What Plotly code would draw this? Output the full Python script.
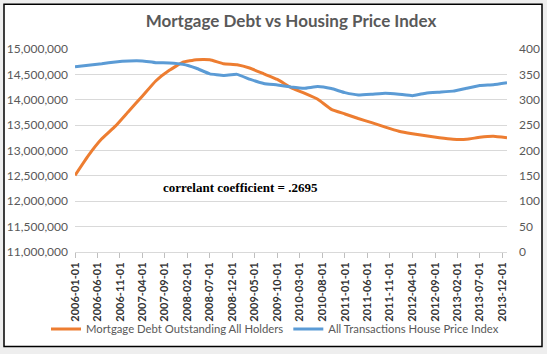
import plotly.graph_objects as go
import pandas as pd

dates = pd.date_range("2006-01-01", "2014-01-01", freq="QS").strftime("%Y-%m-%d").tolist()

mortgage_debt = [
    12510000, 12900000, 13230000, 13480000, 13780000, 14070000, 14370000, 14580000,
    14740000, 14790000, 14790000, 14710000, 14690000, 14620000, 14510000, 14400000,
    14240000, 14130000, 14010000, 13810000, 13720000, 13630000, 13550000, 13460000,
    13380000, 13330000, 13290000, 13250000, 13220000, 13220000, 13260000, 13280000,
    13250000,
]

house_price_index = [
    364.8, 368, 371, 374.6, 376.5, 376.5, 373, 372.6,
    370, 362, 351, 348, 350, 340, 332, 329,
    325, 322.5, 326, 322, 314, 309.5, 311, 313,
    311, 308, 313, 315, 317, 322.5, 328, 329.7,
    333.6,
]

tick_dates = [
    "2006-01-01", "2006-06-01", "2006-11-01", "2007-04-01", "2007-09-01",
    "2008-02-01", "2008-07-01", "2008-12-01", "2009-05-01", "2009-10-01",
    "2010-03-01", "2010-08-01", "2011-01-01", "2011-06-01", "2011-11-01",
    "2012-04-01", "2012-09-01", "2013-02-01", "2013-07-01", "2013-12-01",
]

title_text = "Mortgage Debt vs Housing Price Index"
note_text = "correlant coefficient = .2695"

L, R, T, B = 75, 40, 49, 101
W, H = 547, 354
pw, ph = W - L - R, H - T - B

def px(x):
    return (x - L) / pw

def py(y):
    return (H - B - y) / ph

fig = go.Figure()
fig.add_trace(go.Scatter(
    x=dates, y=mortgage_debt, name="Mortgage Debt Outstanding All Holders",
    mode="lines", line=dict(color="#ED7D31", width=3, shape="spline", smoothing=0.3),
    yaxis="y",
))
fig.add_trace(go.Scatter(
    x=dates, y=house_price_index, name="All Transactions House Price Index",
    mode="lines", line=dict(color="#5B9BD5", width=3, shape="spline", smoothing=0.3),
    yaxis="y2",
))

fig.update_layout(
    width=W, height=H,
    margin=dict(l=L, r=R, t=T, b=B),
    paper_bgcolor="#eeeeee",
    plot_bgcolor="rgba(0,0,0,0)",
    font=dict(family="Lato, Open Sans, sans-serif", color="#595959", size=11),
    title=dict(text="<b>" + title_text + "</b>", x=0.5, xref="paper", xanchor="center",
               y=1 - 21 / H, yanchor="middle",
               font=dict(size=17, color="#595959", family="Lato, Open Sans, sans-serif")),
    xaxis=dict(
        type="date", range=["2006-01-01", "2014-01-01"], automargin=False,
        tickvals=tick_dates, ticktext=tick_dates, tickangle=-90,
        ticks="outside", ticklen=5, tickcolor="#bfbfbf",
        showgrid=False, showline=True, linecolor="#d9d9d9", linewidth=1,
        tickfont=dict(size=11, color="#333333", family="Lato, sans-serif", weight="bold"),
    ),
    yaxis=dict(
        range=[11000000, 15000000], dtick=500000, tickformat=",d", automargin=False,
        showgrid=True, gridcolor="#d9d9d9", gridwidth=1, zeroline=False,
        ticks="", ticklabelstandoff=6, tickfont=dict(size=12, color="#595959"),
    ),
    yaxis2=dict(
        range=[0, 400], dtick=50, overlaying="y", side="right", automargin=False,
        showgrid=False, zeroline=False, ticks="", ticklabelstandoff=11,
        tickfont=dict(size=12, color="#595959"),
    ),
    legend=dict(
        orientation="h", x=px(46), xanchor="left", y=py(329), yanchor="middle",
        font=dict(size=11.3, color="#595959"), bgcolor="rgba(0,0,0,0)",
        itemwidth=30, tracegroupgap=0,
    ),
    shapes=[dict(
        type="rect", xref="paper", yref="paper",
        x0=px(4), x1=px(542), y0=py(348), y1=py(4),
        fillcolor="white", line=dict(color="black", width=1.5), layer="below",
    )],
    annotations=[dict(
        text="<b>" + note_text + "</b>", xref="paper", yref="paper",
        x=px(240), y=py(188), xanchor="center", yanchor="middle", showarrow=False,
        font=dict(family="Liberation Serif, Times New Roman, serif", size=13, color="black"),
    )],
)

fig.write_html("out.html")
